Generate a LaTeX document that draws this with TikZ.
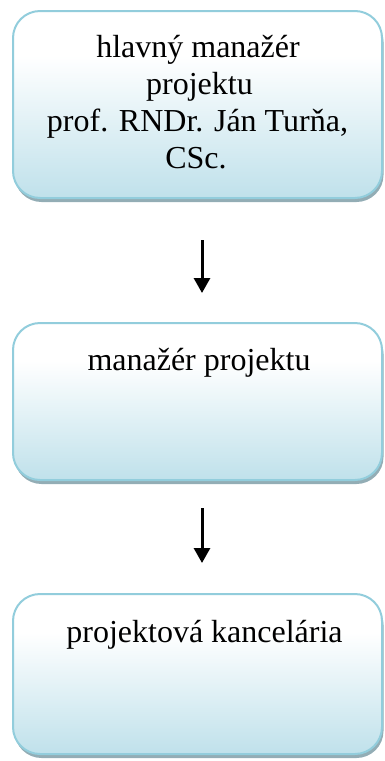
\documentclass[tikz,border=0pt]{standalone}
\usepackage{fontspec}
\setmainfont{Liberation Serif}
\usetikzlibrary{arrows.meta,shadows}

\definecolor{boxblue}{HTML}{B7DDE8}
\definecolor{boxedge}{HTML}{92CDDC}
\definecolor{shadowgrey}{HTML}{93ADB5}
\pgfdeclareverticalshading{boxshade}{100bp}{color(0bp)=(boxblue); color(20bp)=(boxblue); color(63bp)=(white); color(100bp)=(white)}

\tikzset{
  orgbox/.style={rectangle, rounded corners=27pt, draw=boxedge, line width=2pt,
    shading=boxshade, inner sep=0pt,
    drop shadow={shadow xshift=1.5pt, shadow yshift=-4pt, fill=shadowgrey, opacity=1}},
  label text/.style={anchor=base, inner sep=0pt, font=\fontsize{32}{37}\selectfont},
  flow/.style={line width=3pt, -{Triangle[width=16pt,length=15pt]}}
}

\begin{document}
\begin{tikzpicture}[x=1pt,y=-1pt]
  \useasboundingbox (0,0) rectangle (385,761);

  % the three boxes of the hierarchy
  \node[orgbox, minimum width=369pt, minimum height=187pt] (top) at (197.5,104.5) {};
  \node[orgbox, minimum width=369pt, minimum height=157pt] (mid) at (197.5,401.5) {};
  \node[orgbox, minimum width=369pt, minimum height=160pt] (low) at (197.5,674) {};

  % box texts
  \node[label text] (t1) at (198,57) {hlavný manažér};
  \node[label text] (t2) at (199.5,94) {projektu};
  \node[label text] (t3) at (197.5,131) {prof. RNDr. Ján Turňa,};
  \node[label text] (t4) at (196,168) {CSc.};
  \node[label text] (t5) at (199,370) {manažér projektu};
  \node[label text] (t6) at (204.5,642) {projektová kancelária};

  % connectors
  \draw[flow, shorten <=41pt, shorten >=29pt] ([xshift=4.5pt]top.south) -- ([xshift=4.5pt]mid.north);
  \draw[flow, shorten <=27pt, shorten >=30pt] ([xshift=4.5pt]mid.south) -- ([xshift=4.5pt]low.north);
\end{tikzpicture}
\end{document}
